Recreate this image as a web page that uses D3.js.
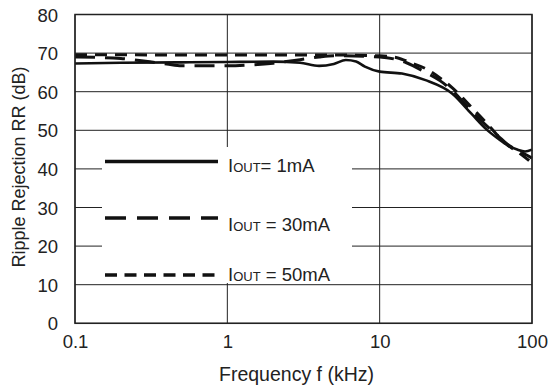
<!DOCTYPE html>
<html><head><meta charset="utf-8">
<script src="https://cdn.jsdelivr.net/npm/d3@7"></script>
<style>
html,body{margin:0;padding:0;background:#fff;}
svg{display:block;font-family:"Liberation Sans",Arial,Helvetica,sans-serif;}
</style></head>
<body><svg id="c" width="550" height="385"></svg>
<script>
const xTicks = [0.1, 1, 10, 100];
const xTickLabels = ["0.1", "1", "10", "100"];
const yTicks = [0, 10, 20, 30, 40, 50, 60, 70, 80];

const freq1 = [0.1, 0.2, 0.5, 1, 2, 3, 4, 5, 6, 7, 8, 10, 14, 20, 30, 40, 50, 60, 70, 80, 90, 100];
const rr1mA = [67.3, 67.5, 67.6, 67.7, 67.8, 67.5, 66.7, 67.2, 68.2, 67.8, 66.5, 65.2, 64.7, 63, 59.5, 54.3, 50.3, 47.8, 46, 45, 44.5, 45];

const freq30 = [0.1, 0.2, 0.3, 0.4, 0.5, 1, 1.5, 2, 3, 4, 5, 10, 15, 20, 25, 30, 40, 50, 60, 70, 80, 90, 100];
const rr30mA = [69, 68.6, 67.8, 67.2, 66.7, 66.7, 67, 67.4, 68.3, 69, 69.3, 69, 67.5, 65, 62.8, 60.3, 55, 51.3, 48.5, 46.2, 44.8, 43.8, 42.8];

const freq50 = [0.1, 1, 5, 10, 13, 16, 20, 25, 30, 40, 50, 60, 70, 80, 90, 100];
const rr50mA = [69.6, 69.5, 69.5, 69.3, 68.8, 67.5, 66, 63.5, 61, 56, 52, 48.5, 46, 44.5, 43, 41.5];

const legendLabels = [["I", "OUT", "= 1mA"], ["I", "OUT", " = 30mA"], ["I", "OUT", " = 50mA"]];

const svg = d3.select("#c");
const L = 75, R = 532, T = 14.5, B = 323.3;
const x = d3.scaleLog().domain([0.1, 100]).range([L, R]);
const y = d3.scaleLinear().domain([0, 80]).range([B, T]);

// grid
const g = svg.append("g");
g.selectAll(".hg").data(yTicks).enter().append("line")
  .attr("x1", L).attr("x2", R).attr("y1", d => y(d)).attr("y2", d => y(d))
  .attr("stroke", "#222").attr("stroke-width", 1);
g.selectAll(".vg").data(xTicks).enter().append("line")
  .attr("y1", T).attr("y2", B).attr("x1", d => x(d)).attr("x2", d => x(d))
  .attr("stroke", "#222").attr("stroke-width", 1);

// axes labels via d3 axes
const yAxis = svg.append("g").attr("transform", `translate(${L},0)`)
  .call(d3.axisLeft(y).tickValues(yTicks).tickSize(0).tickPadding(17));
const xAxis = svg.append("g").attr("transform", `translate(0,${B})`)
  .call(d3.axisBottom(x).tickValues(xTicks).tickFormat((d, i) => xTickLabels[i]).tickSize(0).tickPadding(12));
[yAxis, xAxis].forEach(a => {
  a.select(".domain").remove();
  a.selectAll("text").attr("font-size", 18.5).attr("fill", "#222")
    .attr("font-family", "'Liberation Sans',Arial,sans-serif");
});
yAxis.selectAll("text").attr("dy", "0.36em");

const line = (fs, vs) => d3.line().curve(d3.curveMonotoneX)
  .x(d => x(d[0])).y(d => y(d[1]))(fs.map((f, i) => [f, vs[i]]));

const plot = svg.append("g");
plot.append("path").attr("d", line(freq50, rr50mA)).attr("fill", "none")
  .attr("stroke", "#111").attr("stroke-width", 3).attr("stroke-dasharray", "12,8");
plot.append("path").attr("d", line(freq30, rr30mA)).attr("fill", "none")
  .attr("stroke", "#111").attr("stroke-width", 3).attr("stroke-dasharray", "20,10");
plot.append("path").attr("d", line(freq1, rr1mA)).attr("fill", "none")
  .attr("stroke", "#111").attr("stroke-width", 2.6);

// legend
const lg = svg.append("g");
lg.append("rect").attr("x", 102).attr("y", 147).attr("width", 250).attr("height", 136).attr("fill", "#fff");
const dashes = [null, "21,11", "12,7.5"];
const ly = [161.5, 218, 275];
const tb = [171.5, 231, 281];
legendLabels.forEach((lab, i) => {
  lg.append("line").attr("x1", 105).attr("x2", 218).attr("y1", ly[i]).attr("y2", ly[i])
    .attr("stroke", "#111").attr("stroke-width", 3.3)
    .attr("stroke-dasharray", dashes[i]);
  const t = lg.append("text").attr("x", 228).attr("y", tb[i]).attr("fill", "#222");
  t.append("tspan").attr("font-size", 18.5).text(lab[0]);
  t.append("tspan").attr("font-size", 13).text(lab[1]);
  t.append("tspan").attr("font-size", 18.5).text(lab[2]);
});

// frame
svg.append("rect").attr("x", L).attr("y", T).attr("width", R - L).attr("height", B - T)
  .attr("fill", "none").attr("stroke", "#222").attr("stroke-width", 1.5);

// titles
svg.append("text").attr("x", (L + R) / 2 - 7).attr("y", 381).attr("text-anchor", "middle")
  .attr("font-size", 19.5).attr("fill", "#222").text("Frequency f (kHz)");
svg.append("text").attr("transform", "translate(25,167) rotate(-90)").attr("text-anchor", "middle")
  .attr("font-size", 18).attr("fill", "#222").text("Ripple Rejection RR (dB)");
</script></body></html>
